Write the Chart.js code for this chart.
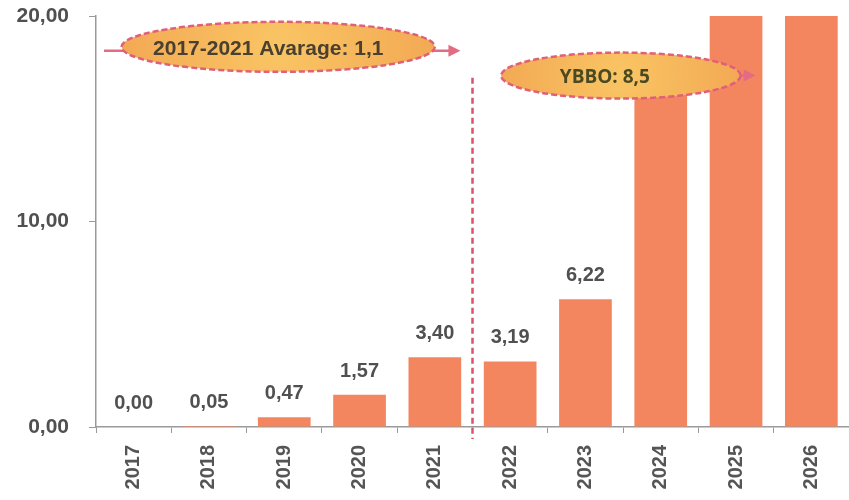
<!DOCTYPE html>
<html>
<head>
<meta charset="utf-8">
<script src="https://cdn.jsdelivr.net/npm/chart.js@4/dist/chart.umd.min.js"></script>
<style>
  html, body { margin: 0; padding: 0; background: #fff; overflow: hidden; }
  #wrap { width: 849px; height: 500px; }
</style>
</head>
<body>
<div id="wrap"><canvas id="ybboChart" width="849" height="500"></canvas></div>
<script>
// veriler
const years = ['2017', '2018', '2019', '2020', '2021', '2022', '2023', '2024', '2025', '2026'];
const values = [0.00, 0.05, 0.47, 1.57, 3.40, 3.19, 6.22, 16.5, 24.0, 28.0];
const yTicks = [0, 10, 20];
const noteAverage = '2017-2021 Avarage: 1,1';
const noteYbbo = 'YBBO: 8,5';

const fmt = v => v.toFixed(2).replace('.', ',');
const labelFont = '"Liberation Sans", Arial, sans-serif';

// bar ustundeki deger etiketleri
const valueLabels = {
    id: 'valueLabels',
    afterDatasetsDraw(chart) {
        const ctx = chart.ctx;
        const ys = chart.scales.y;
        const meta = chart.getDatasetMeta(0);
        ctx.save();
        ctx.font = 'bold 20px ' + labelFont;
        ctx.fillStyle = '#505050';
        ctx.textAlign = 'center';
        ctx.textBaseline = 'alphabetic';
        meta.data.forEach((bar, i) => {
            if (values[i] > ys.max) return;
            ctx.fillText(fmt(values[i]), bar.x, bar.y - 18);
        });
        ctx.restore();
    }
};

function arrow(ctx, x1, y, x2) {
    ctx.beginPath();
    ctx.moveTo(x1, y);
    ctx.lineTo(x2 - 8, y);
    ctx.stroke();
    ctx.beginPath();
    ctx.moveTo(x2, y);
    ctx.lineTo(x2 - 12, y - 6);
    ctx.lineTo(x2 - 12, y + 6);
    ctx.closePath();
    ctx.fill();
}

function bubble(ctx, cx, cy, rx, ry, text, font, color, dx) {
    const g = ctx.createRadialGradient(cx, cy, 4, cx, cy, rx);
    g.addColorStop(0, '#F9C463');
    g.addColorStop(1, '#F3A954');
    ctx.save();
    ctx.beginPath();
    ctx.ellipse(cx, cy, rx, ry, 0, 0, Math.PI * 2);
    ctx.fillStyle = g;
    ctx.fill();
    ctx.setLineDash([6, 3]);
    ctx.lineWidth = 2.5;
    ctx.strokeStyle = '#E0607A';
    ctx.stroke();
    ctx.setLineDash([]);
    ctx.font = font;
    ctx.fillStyle = color;
    ctx.textAlign = 'center';
    ctx.textBaseline = 'middle';
    ctx.fillText(text, cx + dx, cy + 2);
    ctx.restore();
}

// notlar: kesikli ayirici cizgi, elips etiketler ve oklar
const notesPlugin = {
    id: 'notes',
    afterDraw(chart) {
        const ctx = chart.ctx;
        const xs = chart.scales.x, ys = chart.scales.y;
        const x0 = xs.getPixelForValue(0);
        const step = xs.getPixelForValue(1) - x0;
        const px = i => x0 + i * step;

        ctx.save();
        // 2021/2022 ayirici
        ctx.strokeStyle = '#D9536A';
        ctx.lineWidth = 2.5;
        ctx.setLineDash([6, 4]);
        ctx.beginPath();
        ctx.moveTo(px(4.5), ys.getPixelForValue(17.0));
        ctx.lineTo(px(4.5), ys.bottom + 12);
        ctx.stroke();
        ctx.setLineDash([]);

        ctx.strokeStyle = '#E46C82';
        ctx.fillStyle = '#E46C82';
        ctx.lineWidth = 2.5;

        // ortalama notu
        const c1x = px(1.92), c1y = ys.getPixelForValue(18.5), r1 = step * 2.08;
        arrow(ctx, xs.left + 8, c1y + 4, c1x);
        arrow(ctx, c1x, c1y + 4, px(4.34));
        bubble(ctx, c1x, c1y, r1, 25, noteAverage, 'bold 21px ' + labelFont, '#4a4030', -10);

        // YBBO notu
        const c2x = px(6.47), c2y = ys.getPixelForValue(17.1), r2 = step * 1.59;
        ctx.strokeStyle = '#E46C82';
        ctx.fillStyle = '#E46C82';
        arrow(ctx, c2x, c2y, px(8.26));
        bubble(ctx, c2x, c2y, r2, 23, noteYbbo, 'bold 19px "Open Sans", "Noto Sans", sans-serif', '#4a4a22', -16);
        ctx.restore();
    }
};

const ctx = document.getElementById('ybboChart').getContext('2d');
new Chart(ctx, {
    type: 'bar',
    data: {
        labels: years,
        datasets: [{
            data: values,
            backgroundColor: '#F4865F',
            borderWidth: 0,
            barPercentage: 0.7,
            categoryPercentage: 1.0
        }]
    },
    options: {
        responsive: false,
        animation: false,
        layout: { padding: { top: 16, right: 0, left: 0, bottom: 0 } },
        plugins: { legend: { display: false }, tooltip: { enabled: false } },
        scales: {
            x: {
                grid: { drawOnChartArea: false, drawTicks: true, tickLength: 6, color: '#9a9a9a', offset: true },
                border: { color: '#9a9a9a', width: 1.5 },
                ticks: {
                    minRotation: 90, maxRotation: 90,
                    padding: 12,
                    color: '#555',
                    font: { family: labelFont, size: 20, weight: 'bold' }
                },
                afterFit(scale) { scale.height = 73; scale.paddingLeft = 0; scale.paddingRight = 0; }
            },
            y: {
                min: 0, max: 20,
                afterBuildTicks(scale) { scale.ticks = yTicks.map(v => ({ value: v })); },
                grid: { drawOnChartArea: false, drawTicks: true, tickLength: 7, color: '#9a9a9a' },
                border: { color: '#9a9a9a', width: 1.5 },
                ticks: {
                    padding: 20,
                    color: '#505050',
                    font: { family: labelFont, size: 21, weight: 'bold' },
                    callback: v => fmt(v)
                },
                afterFit(scale) { scale.width = 96; scale.paddingTop = 0; scale.paddingBottom = 0; }
            }
        }
    },
    plugins: [valueLabels, notesPlugin]
});
</script>
</body>
</html>
